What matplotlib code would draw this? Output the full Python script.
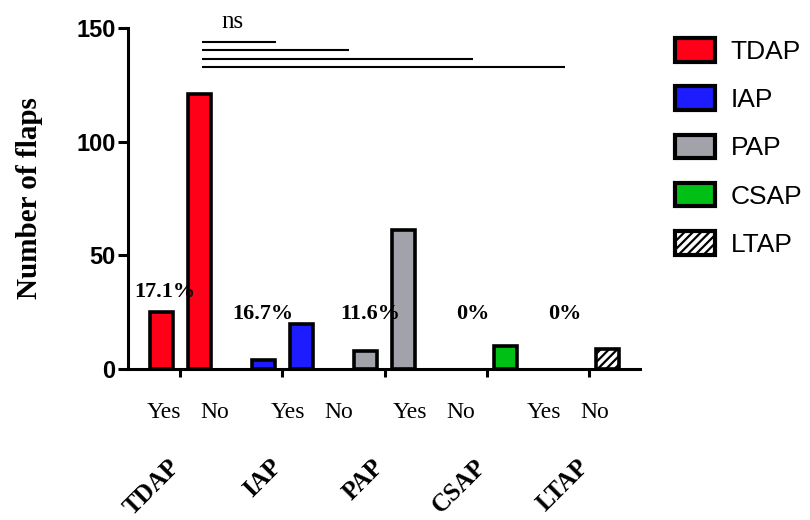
import matplotlib
matplotlib.use("Agg")
import matplotlib.pyplot as plt
from matplotlib.patches import Patch
from matplotlib.transforms import blended_transform_factory
import numpy as np

categories = ["TDAP", "IAP", "PAP", "CSAP", "LTAP"]
yes_values = [25, 4, 8, 0, 0]
no_values = [121, 20, 61, 10, 9]
percent_labels = ["17.1%", "16.7%", "11.6%", "0%", "0%"]
colors = ["#ff0018", "#1c1cff", "#a2a2aa", "#00c016", "#ffffff"]
hatches = [None, None, None, None, "////"]
yes_no_pairs = 4
comparison_ends = [0.94, 1.65, 2.87, 3.77]
comparison_levels = [144, 140.3, 136.3, 132.7]

serif = "Liberation Serif"
sans = "Liberation Sans"
plt.rcParams['hatch.linewidth'] = 1.6

fig = plt.figure(figsize=(8.1, 5.2), dpi=100)
ax = fig.add_axes([128/810, 1-369/520, (640-128)/810, (369-28)/520])

x = np.arange(len(categories))
bw = 0.225
off = 0.185
for i in range(len(categories)):
    for val, dx in ((yes_values[i], -off), (no_values[i], off)):
        if val <= 0:
            continue
        ax.bar(x[i] + dx, val, width=bw, color=colors[i], edgecolor="black",
               linewidth=2.6, hatch=hatches[i], zorder=3)

ax.set_xlim(-0.51, 4.5)
ax.set_ylim(0, 150)
ax.set_yticks([0, 50, 100, 150])
ax.set_yticklabels(["0", "50", "100", "150"], fontfamily=sans, fontweight="bold", fontsize=17)
ax.set_xticks(x)
ax.set_xticklabels([])
ax.tick_params(axis="y", length=7, width=2.2, pad=2)
ax.tick_params(axis="x", length=6, width=2.2)
for s in ["top", "right"]:
    ax.spines[s].set_visible(False)
for s in ["left", "bottom"]:
    ax.spines[s].set_linewidth(2.2)

ax.set_ylabel("Number of flaps", fontfamily=serif, fontweight="bold", fontsize=21, labelpad=24)

# percent labels
pct_y = [34, 24, 24, 24, 24]
pct_dx = [0.04, -0.01, 0.05, 0.05, -0.05]
for i, lab in enumerate(percent_labels):
    ax.text(x[i] - off + pct_dx[i], pct_y[i], lab, ha="center", va="center",
            fontfamily=serif, fontweight="bold", fontsize=16, zorder=4)

# Yes / No labels
trans = blended_transform_factory(ax.transData, ax.transAxes)
yes_y = (369 - 413) / 341
for i in range(yes_no_pairs):
    gx = [-0.16, 1.05, 2.25, 3.56][i]
    ax.text(gx, yes_y, "Yes", transform=trans, ha="center", va="center",
            fontfamily=serif, fontsize=17)
    ax.text(gx + 0.50, yes_y, "No", transform=trans, ha="center", va="center",
            fontfamily=serif, fontsize=17)

# category labels
cat_y = (369 - 463) / 341
for i, c in enumerate(categories):
    ax.text(x[i] - 0.04, cat_y, c, transform=trans, ha="right", va="center",
            rotation=45, rotation_mode="anchor",
            fontfamily=serif, fontweight="bold", fontsize=18)

# significance lines
for xe, yl in zip(comparison_ends, comparison_levels):
    ax.plot([0.215, xe], [yl, yl], color="black", lw=1.5, clip_on=False,
            solid_capstyle="butt")
ax.text(0.51, 152.5, "ns", ha="center", va="center", fontfamily=serif, fontsize=18)

handles = [Patch(facecolor=colors[i], edgecolor="black", linewidth=3,
                 hatch=hatches[i], label=categories[i]) for i in range(len(categories))]
leg = fig.legend(handles=handles, loc="upper left", bbox_to_anchor=(675/810, 1-38/520),
                 frameon=False, prop={"family": sans, "size": 19},
                 handlelength=1.5, handleheight=1.0, labelspacing=0.85,
                 handletextpad=0.6, borderaxespad=0, borderpad=0)

fig.savefig("out.png", dpi=100)
